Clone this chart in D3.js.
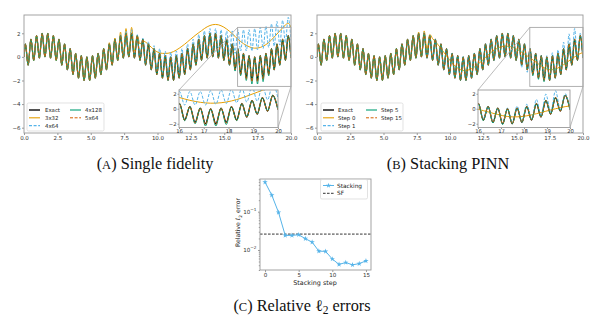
<!DOCTYPE html>
<html>
<head>
<meta charset="utf-8">
<script src="https://cdn.jsdelivr.net/npm/d3@7"></script>
<style>
  body { margin: 0; background: #fff; }
</style>
</head>
<body>
<svg id="fig" width="611" height="325"></svg>
<script>
// x positions of the fast oscillation's peaks and troughs (plus the start point)
var xs = [0, 0.10, 0.31, 0.52, 0.73, 0.94, 1.15, 1.36, 1.57, 1.78, 1.99,
    2.20, 2.41, 2.62, 2.83, 3.04, 3.25, 3.46, 3.67, 3.87, 4.08,
    4.29, 4.50, 4.71, 4.92, 5.13, 5.34, 5.55, 5.76, 5.97, 6.18,
    6.39, 6.60, 6.81, 7.02, 7.23, 7.44, 7.64, 7.85, 8.06, 8.27,
    8.48, 8.69, 8.90, 9.11, 9.32, 9.53, 9.74, 9.95, 10.16, 10.37,
    10.58, 10.79, 10.99, 11.20, 11.41, 11.62, 11.83, 12.04, 12.25, 12.46,
    12.67, 12.88, 13.09, 13.30, 13.51, 13.72, 13.93, 14.14, 14.35, 14.56,
    14.76, 14.97, 15.18, 15.39, 15.60, 15.81, 16.02, 16.23, 16.44, 16.65,
    16.86, 17.07, 17.28, 17.49, 17.70, 17.91, 18.12, 18.33, 18.54, 18.74,
    18.95, 19.16, 19.37, 19.58, 19.79, 20.00];

var exact = [0, 1.1, -0.7, 1.5, -0.3, 1.8, -0.1, 2.0, 0.0, 2.0, -0.1,
    1.8, -0.3, 1.5, -0.7, 1.1, -1.1, 0.7, -1.5, 0.3, -1.8,
    0.1, -2.0, 0.0, -2.0, 0.1, -1.8, 0.3, -1.5, 0.7, -1.1,
    1.1, -0.7, 1.5, -0.3, 1.8, -0.1, 2.0, 0.0, 2.0, -0.1,
    1.8, -0.3, 1.5, -0.7, 1.1, -1.1, 0.7, -1.5, 0.3, -1.8,
    0.1, -2.0, 0.0, -2.0, 0.1, -1.8, 0.3, -1.5, 0.7, -1.1,
    1.1, -0.7, 1.5, -0.3, 1.8, -0.1, 2.0, 0.0, 2.0, -0.1,
    1.8, -0.3, 1.5, -0.7, 1.1, -1.1, 0.7, -1.5, 0.3, -1.8,
    0.1, -2.0, 0.0, -2.0, 0.1, -1.8, 0.3, -1.5, 0.7, -1.1,
    1.1, -0.7, 1.5, -0.3, 1.8, -0.1];

// single fidelity networks
var net3x32 = [0, 1.1, -0.7, 1.5, -0.3, 1.8, -0.1, 2.0, 0.0, 2.0, -0.1,
    1.8, -0.3, 1.5, -0.7, 1.1, -1.1, 0.7, -1.5, 0.3, -1.8,
    0.1, -2.0, 0.0, -2.0, 0.1, -1.8, 0.3, -1.5, 0.7, -1.1,
    1.2, -0.7, 1.6, -0.3, 2.1, -0.1, 2.4, 0.1, 2.5, 0.5,
    1.8, 1.1, 1.35, 1.25, 1.05, 0.82, 0.6, 0.44, 0.34, 0.3,
    0.29, 0.31, 0.36, 0.45, 0.58, 0.73, 0.9, 1.08, 1.28, 1.48,
    1.68, 1.87, 2.05, 2.22, 2.4, 2.55, 2.66, 2.73, 2.75, 2.72,
    2.64, 2.52, 2.36, 2.17, 1.96, 1.74, 1.5, 1.3, 1.12, 0.98,
    0.86, 0.78, 0.74, 0.75, 0.8, 0.9, 1.04, 1.22, 1.44, 1.68,
    1.94, 2.2, 2.46, 2.7, 2.85, 2.5];

var net4x64 = [0, 1.1, -0.7, 1.5, -0.3, 1.8, -0.1, 2.0, 0.0, 2.0, -0.1,
    1.8, -0.3, 1.5, -0.7, 1.1, -1.1, 0.7, -1.5, 0.3, -1.8,
    0.1, -2.0, 0.0, -2.0, 0.1, -1.8, 0.3, -1.5, 0.7, -1.1,
    1.1, -0.7, 1.5, -0.3, 1.9, -0.1, 2.2, 0.1, 2.3, 0.0,
    1.9, -0.2, 1.6, -0.6, 1.3, -0.9, 0.95, -1.2, 0.7, -1.4,
    0.5, -1.6, 0.4, -1.6, 0.5, -1.4, 0.7, -1.1, 1.1, -0.7,
    1.5, -0.3, 1.9, 0.1, 2.2, 0.3, 2.4, 0.4, 2.4, 0.35,
    2.3, 0.3, 2.2, 0.2, 2.2, 0.3, 2.3, 0.5, 2.3, 0.5,
    2.3, 0.5, 2.4, 0.6, 2.5, 0.7, 2.6, 0.8, 2.8, 0.9,
    3.0, 1.0, 3.1, 1.2, 3.35, 1.4];

var net4x128 = [0, 1.1, -0.7, 1.5, -0.3, 1.8, -0.1, 2.0, 0.0, 2.0, -0.1,
    1.8, -0.3, 1.5, -0.7, 1.1, -1.1, 0.7, -1.5, 0.3, -1.8,
    0.1, -2.0, 0.0, -2.0, 0.1, -1.8, 0.3, -1.5, 0.7, -1.1,
    1.1, -0.7, 1.5, -0.3, 1.8, -0.1, 2.0, 0.0, 2.0, -0.1,
    1.8, -0.3, 1.5, -0.7, 1.1, -1.1, 0.7, -1.5, 0.3, -1.8,
    0.1, -2.0, 0.0, -2.0, 0.1, -1.8, 0.3, -1.5, 0.7, -1.1,
    1.1, -0.7, 1.5, -0.3, 1.8, -0.1, 2.0, 0.0, 2.0, -0.1,
    1.8, -0.3, 1.5, -0.7, 1.1, -1.2, 0.7, -1.6, 0.3, -2.0,
    0.1, -2.3, 0.0, -2.3, 0.1, -2.1, 0.3, -1.6, 0.7, -1.1,
    1.1, -0.7, 1.5, -0.3, 1.8, -0.1];

var net5x64 = [0, 1.1, -0.7, 1.5, -0.3, 1.8, -0.1, 2.0, 0.0, 2.0, -0.1,
    1.8, -0.3, 1.5, -0.7, 1.1, -1.1, 0.7, -1.5, 0.3, -1.8,
    0.1, -2.0, 0.0, -2.0, 0.1, -1.8, 0.3, -1.5, 0.7, -1.1,
    1.1, -0.7, 1.5, -0.3, 1.8, -0.1, 2.0, 0.0, 2.0, -0.1,
    1.8, -0.3, 1.5, -0.7, 1.1, -1.1, 0.7, -1.5, 0.3, -1.8,
    0.1, -2.0, 0.0, -2.0, 0.1, -1.8, 0.3, -1.5, 0.7, -1.1,
    1.1, -0.7, 1.5, -0.3, 1.8, -0.1, 2.0, 0.0, 2.0, -0.1,
    1.8, -0.3, 1.5, -0.7, 1.1, -1.1, 0.7, -1.5, 0.3, -1.9,
    0.1, -2.1, 0.0, -2.1, 0.1, -1.9, 0.3, -1.5, 0.7, -1.1,
    1.1, -0.7, 1.5, -0.3, 1.8, -0.1];

// stacking steps
var step0 = [0, 1.1, -0.7, 1.5, -0.3, 1.8, -0.1, 2.0, 0.0, 2.0, -0.1,
    1.8, -0.3, 1.5, -0.7, 1.1, -1.1, 0.7, -1.5, 0.3, -1.8,
    0.1, -2.0, 0.0, -2.0, 0.1, -1.8, 0.3, -1.5, 0.7, -1.1,
    1.1, -0.7, 1.5, -0.3, 1.8, -0.1, 2.1, 0.0, 2.2, 0.6,
    1.9, 1.55, 1.3, 1.02, 0.72, 0.4, 0.08, -0.22, -0.5, -0.76,
    -0.95, -1.08, -1.15, -1.15, -1.1, -1.0, -0.86, -0.68, -0.48, -0.26,
    -0.04, 0.18, 0.38, 0.56, 0.7, 0.81, 0.88, 0.91, 0.9, 0.86,
    0.79, 0.68, 0.55, 0.4, 0.24, 0.08, -0.08, -0.25, -0.42, -0.6,
    -0.76, -0.92, -1.03, -1.08, -1.08, -1.03, -0.94, -0.81, -0.66, -0.5,
    -0.33, -0.16, 0.0, 0.15, 0.28, 0.38];

var step1 = [0, 1.1, -0.7, 1.5, -0.3, 1.8, -0.1, 2.0, 0.0, 2.0, -0.1,
    1.8, -0.3, 1.5, -0.7, 1.1, -1.1, 0.7, -1.5, 0.3, -1.8,
    0.1, -2.0, 0.0, -2.0, 0.1, -1.8, 0.3, -1.5, 0.7, -1.1,
    1.1, -0.7, 1.5, -0.3, 1.8, -0.1, 2.0, 0.0, 2.1, -0.1,
    1.8, -0.3, 1.5, -0.7, 1.1, -1.1, 0.7, -1.5, 0.3, -1.8,
    0.1, -2.0, 0.0, -2.0, 0.1, -1.8, 0.3, -1.5, 0.7, -1.1,
    1.1, -0.7, 1.5, -0.3, 1.8, -0.1, 2.0, 0.0, 2.0, -0.1,
    1.8, -0.3, 1.5, -0.9, 1.1, -1.3, 0.6, -1.3, 0.3, -1.6,
    0.1, -2.0, 0.1, -1.9, 0.35, -1.7, 0.6, -1.3, 1.25, -0.9,
    1.95, -0.4, 2.4, -0.1, 2.0, -0.1];

var step5 = [0, 1.1, -0.7, 1.5, -0.3, 1.8, -0.1, 2.0, 0.0, 2.0, -0.1,
    1.8, -0.3, 1.5, -0.7, 1.1, -1.1, 0.7, -1.5, 0.3, -1.8,
    0.1, -2.0, 0.0, -2.0, 0.1, -1.8, 0.3, -1.5, 0.7, -1.1,
    1.1, -0.7, 1.5, -0.3, 1.8, -0.1, 2.0, 0.0, 2.0, -0.1,
    1.8, -0.3, 1.5, -0.7, 1.1, -1.1, 0.7, -1.5, 0.3, -1.8,
    0.1, -2.0, 0.0, -2.0, 0.1, -1.8, 0.3, -1.5, 0.7, -1.1,
    1.1, -0.7, 1.5, -0.3, 1.8, -0.1, 2.0, 0.0, 2.0, -0.1,
    1.8, -0.3, 1.5, -0.7, 1.1, -1.1, 0.7, -1.6, 0.3, -1.9,
    0.1, -2.1, 0.0, -2.0, 0.1, -1.8, 0.3, -1.5, 0.7, -1.1,
    1.1, -0.7, 1.5, -0.3, 1.8, -0.1];

var step15 = [0, 1.1, -0.7, 1.5, -0.3, 1.8, -0.1, 2.0, 0.0, 2.0, -0.1,
    1.8, -0.3, 1.5, -0.7, 1.1, -1.1, 0.7, -1.5, 0.3, -1.8,
    0.1, -2.0, 0.0, -2.0, 0.1, -1.8, 0.3, -1.5, 0.7, -1.1,
    1.1, -0.7, 1.5, -0.3, 1.8, -0.1, 2.0, 0.0, 2.0, -0.1,
    1.8, -0.3, 1.5, -0.7, 1.1, -1.1, 0.7, -1.5, 0.3, -1.8,
    0.1, -2.0, 0.0, -2.0, 0.1, -1.8, 0.3, -1.5, 0.7, -1.1,
    1.1, -0.7, 1.5, -0.3, 1.8, -0.1, 2.0, 0.0, 2.0, -0.1,
    1.8, -0.3, 1.5, -0.7, 1.1, -1.1, 0.7, -1.5, 0.3, -1.8,
    0.1, -2.0, 0.0, -2.0, 0.1, -1.8, 0.3, -1.5, 0.7, -1.1,
    1.1, -0.7, 1.5, -0.3, 1.8, -0.1];

var mainXTicks = [0, 2.5, 5, 7.5, 10, 12.5, 15, 17.5, 20];
var mainYTicks = [2, 0, -2, -4, -6];
var insetXTicks = [16, 17, 18, 19, 20];
var insetYTicks = [2, 0, -2];

// relative l2 error per stacking step
var stackSteps = [0, 1, 2, 3, 4, 5, 6, 7, 8, 9, 10, 11, 12, 13, 14, 15];
var stackErr = [0.59, 0.27, 0.096, 0.024, 0.024, 0.025, 0.0197, 0.016,
    0.0093, 0.0092, 0.0058, 0.0042, 0.0047, 0.0041, 0.0044, 0.0052];
var sfErr = 0.026;
var errXTicks = [0, 5, 10, 15];

var sans = "DejaVu Sans, sans-serif";
var serif = "Liberation Serif, DejaVu Serif, serif";
var frameColor = "#9a9a9a";
var tickColor = "#555";

var styles = {
    exact: { color: "#000000", width: 1.25, dash: null },
    orange: { color: "#E69F00", width: 1.0, dash: null },
    blue: { color: "#56B4E9", width: 1.0, dash: "3,1.6" },
    green: { color: "#009E73", width: 1.0, dash: null },
    red: { color: "#D55E00", width: 0.9, dash: "3,1.6" }
};

var svg = d3.select("#fig");
var clipCount = 0;

function add_clip(x0, y0, w, h) {
    var id = "clip" + (clipCount++);
    svg.append("clipPath").attr("id", id)
        .append("rect").attr("x", x0).attr("y", y0).attr("width", w).attr("height", h);
    return "url(#" + id + ")";
}

function draw_lines(g, series, x, y) {
    series.forEach(function (s) {
        var st = styles[s.style];
        g.append("path")
            .datum(s.values)
            .attr("fill", "none")
            .attr("stroke", st.color)
            .attr("stroke-width", st.width)
            .attr("stroke-dasharray", st.dash)
            .attr("stroke-linejoin", "round")
            .attr("d", d3.line()
                .x(function (d, i) { return x(xs[i]); })
                .y(function (d) { return y(d); })
                .curve(d3.curveMonotoneX));
    });
}

function style_axis(g, size) {
    g.select(".domain").remove();
    g.selectAll(".tick line").attr("stroke", tickColor).attr("stroke-width", 0.6);
    g.selectAll(".tick text")
        .attr("fill", "#333")
        .attr("font-family", sans)
        .attr("font-size", size);
}

function add_frame(x0, y0, x1, y1, color) {
    svg.append("rect")
        .attr("x", x0).attr("y", y0)
        .attr("width", x1 - x0).attr("height", y1 - y0)
        .attr("fill", "none")
        .attr("stroke", color)
        .attr("stroke-width", 0.9);
}

function minus(d) {
    return d < 0 ? "\u2212" + Math.abs(d) : String(d);
}

function add_legend(box, cols, items) {
    svg.append("rect")
        .attr("x", box[0]).attr("y", box[1])
        .attr("width", box[2] - box[0]).attr("height", box[3] - box[1])
        .attr("rx", 1.5)
        .attr("fill", "#fff").attr("fill-opacity", 0.85)
        .attr("stroke", "#d6d6d6").attr("stroke-width", 0.7);
    items.forEach(function (it, i) {
        var col = cols[Math.floor(i / 3)],
            yy = box[1] + 7 + (i % 3) * 7.8,
            st = styles[it.style];
        svg.append("line")
            .attr("x1", col[0]).attr("x2", col[1])
            .attr("y1", yy).attr("y2", yy)
            .attr("stroke", st.color)
            .attr("stroke-width", st.width + 0.1)
            .attr("stroke-dasharray", st.dash);
        svg.append("text")
            .attr("x", col[2]).attr("y", yy + 2)
            .attr("font-family", sans)
            .attr("font-size", 5.4)
            .attr("fill", "#222")
            .text(it.label);
    });
}

function add_solution_panel(p) {
    var x = d3.scaleLinear().domain([0, 20]).range([p.left, p.right]),
        y = d3.scaleLinear().domain([-6.45, 3.55]).range([p.bottom, p.top]);

    var g = svg.append("g").attr("clip-path", add_clip(p.left, p.top, p.right - p.left, p.bottom - p.top));
    draw_lines(g, p.series, x, y);

    svg.append("g")
        .attr("transform", "translate(0," + p.bottom + ")")
        .call(d3.axisBottom(x).tickValues(mainXTicks).tickFormat(d3.format(".1f")).tickSize(2).tickPadding(1.5))
        .call(style_axis, 5.5);
    svg.append("g")
        .attr("transform", "translate(" + p.left + ",0)")
        .call(d3.axisLeft(y).tickValues(mainYTicks).tickFormat(minus).tickSize(2).tickPadding(1.5))
        .call(style_axis, 5.5);
    add_frame(p.left, p.top, p.right, p.bottom, frameColor);

    // zoomed window: marker box, connectors, inset axes
    var ins = p.inset,
        yIn = [-2.5, 2.5],
        rx0 = x(16), rx1 = x(20), ry0 = y(yIn[1]), ry1 = y(yIn[0]);
    svg.append("line").attr("x1", rx0).attr("y1", ry0).attr("x2", ins.left).attr("y2", ins.top)
        .attr("stroke", "#aaa").attr("stroke-width", 0.8);
    svg.append("line").attr("x1", rx1).attr("y1", ry1).attr("x2", ins.right).attr("y2", ins.bottom)
        .attr("stroke", "#aaa").attr("stroke-width", 0.8);
    add_frame(rx0, ry0, rx1, ry1, "#a8a8a8");

    var xi = d3.scaleLinear().domain([16, 20]).range([ins.left, ins.right]),
        yi = d3.scaleLinear().domain(yIn).range([ins.bottom, ins.top]);
    svg.append("rect")
        .attr("x", ins.left).attr("y", ins.top)
        .attr("width", ins.right - ins.left).attr("height", ins.bottom - ins.top)
        .attr("fill", "#fff");
    var gi = svg.append("g").attr("clip-path", add_clip(ins.left, ins.top, ins.right - ins.left, ins.bottom - ins.top));
    draw_lines(gi, p.series, xi, yi);
    var ax = svg.append("g")
        .attr("transform", "translate(0," + ins.bottom + ")")
        .call(d3.axisBottom(xi).tickValues(insetXTicks).tickFormat(d3.format("d")).tickSize(1.5).tickPadding(0.5))
        .call(style_axis, 5.3);
    ax.selectAll(".tick text").attr("dy", "0.62em");
    svg.append("g")
        .attr("transform", "translate(" + ins.left + ",0)")
        .call(d3.axisLeft(yi).tickValues(insetYTicks).tickFormat(minus).tickSize(1.5).tickPadding(1))
        .call(style_axis, 5.3);
    add_frame(ins.left, ins.top, ins.right, ins.bottom, frameColor);

    add_legend(p.legendBox, p.legendCols, p.series);
}

function add_caption(cx, cy, letter, build) {
    var t = svg.append("text")
        .attr("x", cx).attr("y", cy)
        .attr("text-anchor", "middle")
        .attr("font-family", serif)
        .attr("font-size", 16.3)
        .attr("fill", "#111");
    t.append("tspan").text("(");
    t.append("tspan").attr("font-size", 12.5).text(letter);
    t.append("tspan").text(")\u00a0");
    build(t);
}

add_solution_panel({
    left: 24, right: 291, top: 15, bottom: 133,
    inset: { left: 179, right: 278, top: 90, bottom: 127.5 },
    legendBox: [27, 103, 104, 131],
    legendCols: [[29, 40, 45], [70, 81, 85]],
    series: [
        { label: "Exact", style: "exact", values: exact },
        { label: "3x32", style: "orange", values: net3x32 },
        { label: "4x64", style: "blue", values: net4x64 },
        { label: "4x128", style: "green", values: net4x128 },
        { label: "5x64", style: "red", values: net5x64 }
    ]
});

add_solution_panel({
    left: 317, right: 583, top: 15, bottom: 133,
    inset: { left: 478, right: 570, top: 90, bottom: 127.5 },
    legendBox: [321, 103, 403, 131],
    legendCols: [[323, 334, 338], [366, 377, 381]],
    series: [
        { label: "Exact", style: "exact", values: exact },
        { label: "Step 0", style: "orange", values: step0 },
        { label: "Step 1", style: "blue", values: step1 },
        { label: "Step 5", style: "green", values: step5 },
        { label: "Step 15", style: "red", values: step15 }
    ]
});

// error vs stacking step, log scale
function add_error_panel() {
    var left = 260, right = 371, top = 179, bottom = 270;
    var x = d3.scaleLinear().domain([-0.75, 15.75]).range([left, right]),
        y = d3.scaleLog().domain([0.0030, 0.714]).range([bottom, top]);

    var g = svg.append("g").attr("clip-path", add_clip(left, top, right - left, bottom - top));
    g.append("line")
        .attr("x1", left).attr("x2", right)
        .attr("y1", y(sfErr)).attr("y2", y(sfErr))
        .attr("stroke", "#000").attr("stroke-width", 0.8)
        .attr("stroke-dasharray", "2.6,1.4");
    g.append("path")
        .datum(stackErr)
        .attr("fill", "none")
        .attr("stroke", "#56B4E9")
        .attr("stroke-width", 1)
        .attr("d", d3.line()
            .x(function (d, i) { return x(stackSteps[i]); })
            .y(function (d) { return y(d); }));
    g.selectAll(".pt")
        .data(stackErr)
        .enter().append("path")
        .attr("class", "pt")
        .attr("transform", function (d, i) { return "translate(" + x(stackSteps[i]) + "," + y(d) + ")"; })
        .attr("d", d3.symbol().type(d3.symbolStar).size(9))
        .attr("fill", "#56B4E9");

    svg.append("g")
        .attr("transform", "translate(0," + bottom + ")")
        .call(d3.axisBottom(x).tickValues(errXTicks).tickSize(2).tickPadding(1.5))
        .call(style_axis, 5.6);

    var minor = [];
    [0.001, 0.01, 0.1].forEach(function (dec) {
        for (var m = 2; m <= 9; m++) {
            var v = dec * m;
            if (v >= 0.0030 && v <= 0.714) minor.push(v);
        }
    });
    svg.append("g")
        .attr("transform", "translate(" + left + ",0)")
        .call(d3.axisLeft(y).tickValues(minor).tickFormat("").tickSize(1.2))
        .call(style_axis, 5.6);
    svg.append("g")
        .attr("transform", "translate(" + left + ",0)")
        .call(d3.axisLeft(y).tickValues([0.01, 0.1]).tickFormat("").tickSize(2))
        .call(style_axis, 5.6);
    [0.01, 0.1].forEach(function (v) {
        var t = svg.append("text")
            .attr("x", left - 3.5).attr("y", y(v) + 2)
            .attr("text-anchor", "end")
            .attr("font-family", sans).attr("font-size", 5.6).attr("fill", "#333");
        t.append("tspan").text("10");
        t.append("tspan").attr("dy", -2.6).attr("font-size", 4.2).text(v === 0.1 ? "\u22121" : "\u22122");
    });
    add_frame(left, top, right, bottom, frameColor);

    svg.append("text")
        .attr("x", (left + right) / 2 - 0.5).attr("y", 285)
        .attr("text-anchor", "middle")
        .attr("font-family", sans).attr("font-size", 6.4).attr("fill", "#222")
        .text("Stacking step");
    var yl = svg.append("text")
        .attr("transform", "translate(240," + ((top + bottom) / 2 - 2) + ") rotate(-90)")
        .attr("text-anchor", "middle")
        .attr("font-family", sans).attr("font-size", 6.2).attr("fill", "#222");
    yl.append("tspan").text("Relative \u2113");
    yl.append("tspan").attr("dy", 1.5).attr("font-size", 4.4).text("2");
    yl.append("tspan").attr("dy", -1.5).text(" error");

    // legend
    svg.append("rect")
        .attr("x", 320.5).attr("y", 179.5).attr("width", 47).attr("height", 19.5)
        .attr("rx", 1.5).attr("fill", "#fff").attr("fill-opacity", 0.85)
        .attr("stroke", "#d6d6d6").attr("stroke-width", 0.7);
    svg.append("line").attr("x1", 323).attr("x2", 334).attr("y1", 185.5).attr("y2", 185.5)
        .attr("stroke", "#56B4E9").attr("stroke-width", 1);
    svg.append("path").attr("transform", "translate(328.5,185.5)")
        .attr("d", d3.symbol().type(d3.symbolStar).size(9)).attr("fill", "#56B4E9");
    svg.append("line").attr("x1", 323).attr("x2", 334).attr("y1", 193.3).attr("y2", 193.3)
        .attr("stroke", "#000").attr("stroke-width", 0.8).attr("stroke-dasharray", "2.6,1.4");
    svg.append("text").attr("x", 337).attr("y", 187.6)
        .attr("font-family", sans).attr("font-size", 5.8).attr("fill", "#222").text("Stacking");
    svg.append("text").attr("x", 337).attr("y", 195.4)
        .attr("font-family", sans).attr("font-size", 5.8).attr("fill", "#222").text("SF");
}

add_error_panel();

add_caption(155, 169, "A", function (t) { t.append("tspan").text("Single fidelity"); });
add_caption(448, 169, "B", function (t) { t.append("tspan").text("Stacking PINN"); });
add_caption(302, 311, "C", function (t) {
    t.append("tspan").text("Relative \u2113");
    t.append("tspan").attr("dy", 3).attr("font-size", 11.5).text("2");
    t.append("tspan").attr("dy", -3).text(" errors");
});
</script>
</body>
</html>
